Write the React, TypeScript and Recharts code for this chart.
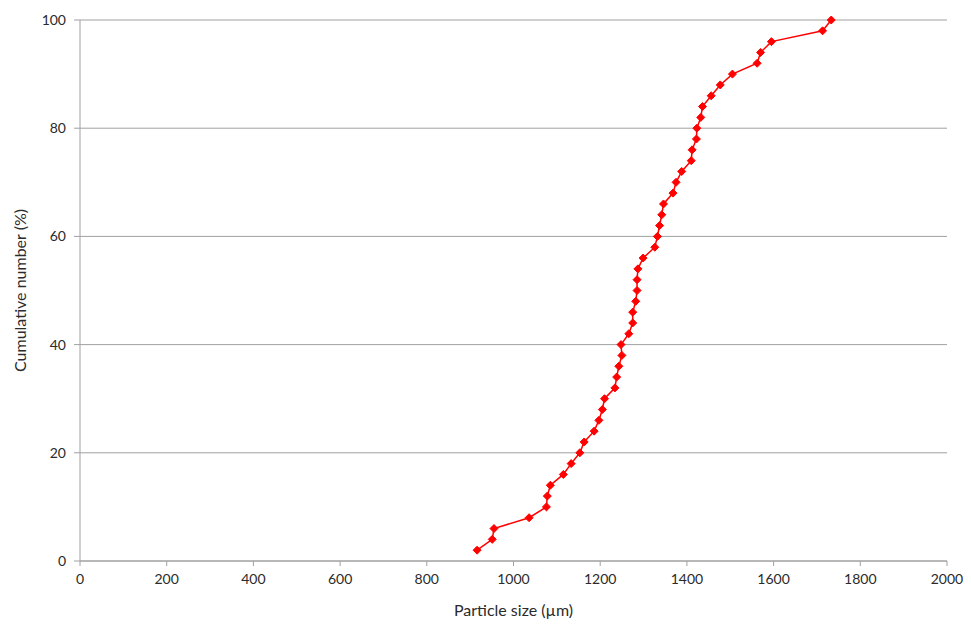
import React from 'react';
import { LineChart, Line, XAxis, YAxis, CartesianGrid, Label } from 'recharts';

// particle sizes (µm), sorted ascending
const SIZES = [
  916, 951, 955, 1036, 1076, 1078, 1085, 1115, 1133, 1153,
  1163, 1186, 1197, 1205, 1210, 1234, 1238, 1243, 1250, 1248,
  1266, 1275, 1275, 1282, 1285, 1285, 1287, 1299, 1326, 1332,
  1337, 1342, 1346, 1368, 1375, 1388, 1410, 1412, 1422, 1423,
  1432, 1436, 1456, 1477, 1505, 1562, 1570, 1595, 1713, 1733,
];

// cumulative number (%)
const CUMULATIVE = [
  2, 4, 6, 8, 10, 12, 14, 16, 18, 20,
  22, 24, 26, 28, 30, 32, 34, 36, 38, 40,
  42, 44, 46, 48, 50, 52, 54, 56, 58, 60,
  62, 64, 66, 68, 70, 72, 74, 76, 78, 80,
  82, 84, 86, 88, 90, 92, 94, 96, 98, 100,
];

const X_TICKS = [0, 200, 400, 600, 800, 1000, 1200, 1400, 1600, 1800, 2000];
const Y_TICKS = [0, 20, 40, 60, 80, 100];

const data = SIZES.map((size, i) => ({ size, cum: CUMULATIVE[i] }));

const FONT = 'Lato, "Open Sans", sans-serif';
const AXIS = '#a0a0a0';
const TEXT = '#2b2b2b';
const RED = '#ff0000';

const Diamond = (props: any) => {
  const { cx, cy, index } = props;
  if (cx == null || cy == null) return null;
  const r = 4;
  return (
    <polygon
      key={index}
      points={`${cx},${cy - r} ${cx + r},${cy} ${cx},${cy + r} ${cx - r},${cy}`}
      fill={RED}
      stroke={RED}
      strokeWidth={1}
    />
  );
};

export default function App() {
  return (
    <div style={{ position: 'absolute', left: 0, top: 0, width: 971, height: 624, background: '#fff' }}>
      <LineChart
        width={971}
        height={624}
        data={data}
        margin={{ top: 20, right: 24, bottom: 0, left: 0 }}
      >
        <CartesianGrid vertical={false} stroke={AXIS} strokeWidth={1} />
        <XAxis
          dataKey="size"
          type="number"
          domain={[0, 2000]}
          ticks={X_TICKS}
          height={63}
          stroke={AXIS}
          tickSize={5}
          tickMargin={8}
          tick={{ fill: TEXT, fontSize: 14, fontFamily: FONT }}
        >
          <Label
            value="Particle size (µm)"
            position="insideBottom"
            offset={8}
            style={{ fill: TEXT, fontSize: 16, fontFamily: FONT }}
          />
        </XAxis>
        <YAxis
          dataKey="cum"
          type="number"
          domain={[0, 100]}
          ticks={Y_TICKS}
          width={80}
          stroke={AXIS}
          tickSize={6}
          tickMargin={8}
          tick={{ fill: TEXT, fontSize: 14, fontFamily: FONT }}
        >
          <Label
            value="Cumulative number (%)"
            angle={-90}
            position="insideLeft"
            offset={20}
            style={{ fill: TEXT, fontSize: 16, fontFamily: FONT, textAnchor: 'middle' }}
          />
        </YAxis>
        <Line
          dataKey="cum"
          type="linear"
          stroke={RED}
          strokeWidth={1.5}
          dot={<Diamond />}
          activeDot={false}
          isAnimationActive={false}
        />
      </LineChart>
    </div>
  );
}
